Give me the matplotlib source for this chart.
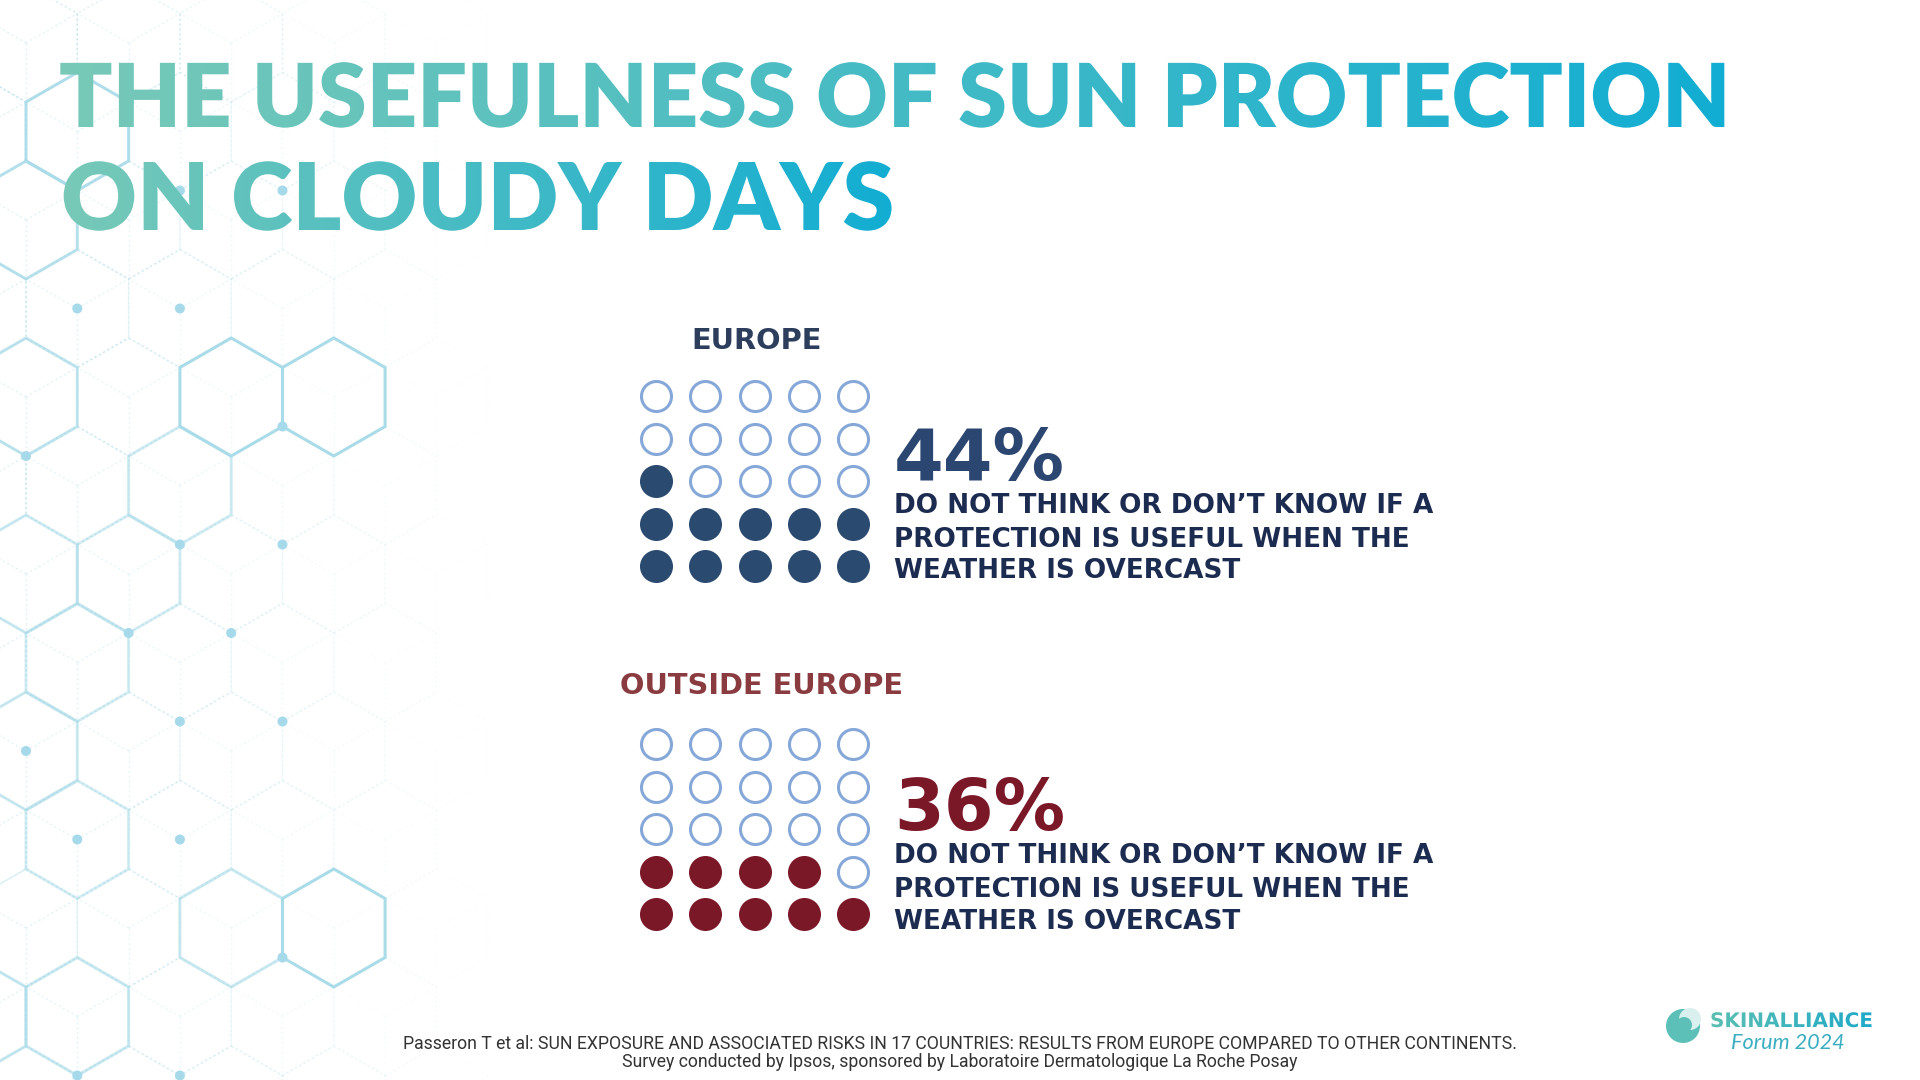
import numpy as np
import matplotlib.pyplot as plt
from matplotlib.patches import Circle, Polygon
from matplotlib.patheffects import AbstractPathEffect
from matplotlib.transforms import TransformedPath
from matplotlib.colors import to_rgb

# ---- chart data ----
title_lines = ["THE USEFULNESS OF SUN PROTECTION", "ON CLOUDY DAYS"]
regions = ["EUROPE", "OUTSIDE EUROPE"]
pct_values = [44, 36]
desc_lines = ["DO NOT THINK OR DON\u2019T KNOW IF A",
              "PROTECTION IS USEFUL WHEN THE",
              "WEATHER IS OVERCAST"]
footer_lines = ["Passeron T et al: SUN EXPOSURE AND ASSOCIATED RISKS IN 17 COUNTRIES: "
                "RESULTS FROM EUROPE COMPARED TO OTHER CONTINENTS.",
                "Survey conducted by Ipsos, sponsored by Laboratoire Dermatologique La Roche Posay"]
logo_name = "SKINALLIANCE"
logo_sub = "Forum 2024"
n_rows, n_cols = 5, 5

# colours
dot_colors = ["#2b4a70", "#7b1828"]
header_colors = ["#2c3e5c", "#8a3b3f"]
pct_colors = ["#2b4670", "#7b1828"]
desc_color = "#1c2b50"
ring_color = "#86a8d8"
teal0, teal1 = "#78c9b7", "#12add3"
hex_color = "#a9dbe8"


class GradientFill(AbstractPathEffect):
    """fill a text path with a left-to-right colour gradient"""
    def __init__(self, c0, c1):
        super().__init__()
        self.c0 = np.array(to_rgb(c0))
        self.c1 = np.array(to_rgb(c1))

    def draw_path(self, renderer, gc, tpath, affine, rgbFace=None):
        ext = affine.transform_path(tpath).get_extents()
        x0, y0 = int(np.floor(ext.x0)), int(np.floor(ext.y0))
        w = int(np.ceil(ext.x1)) - x0 + 1
        h = int(np.ceil(ext.y1)) - y0 + 1
        t = np.linspace(0, 1, w)[:, None]
        rgb = self.c0[None, :] * (1 - t) + self.c1[None, :] * t
        img = np.zeros((h, w, 4), np.uint8)
        img[..., :3] = (rgb * 255).astype(np.uint8)[None, :, :]
        img[..., 3] = 255
        gc0 = renderer.new_gc()
        gc0.copy_properties(gc)
        gc0.set_clip_path(TransformedPath(tpath, affine))
        renderer.draw_image(gc0, x0, y0, img)
        gc0.restore()


fig = plt.figure(figsize=(19.2, 10.8), dpi=100)
ax = fig.add_axes([0, 0, 1, 1])
ax.set_xlim(0, 1920)
ax.set_ylim(1080, 0)
ax.axis('off')
renderer = fig.canvas.get_renderer()


def text_w(s, size, **kw):
    t = ax.text(0, 0, s, fontsize=size, **kw)
    w = t.get_window_extent(renderer).width
    t.remove()
    return w


def fit_size(s, target_w, **kw):
    # font size (pt) that makes the string target_w pixels wide
    return 100 * target_w / text_w(s, 100, **kw)


# ---- background hexagons ----
W, R = 102.6, 59.0
hx0, hy0, dyrow = 26, 397, 88.5
offs = [(0, -R), (W / 2, -R / 2), (W / 2, R / 2), (0, R), (-W / 2, R / 2), (-W / 2, -R / 2)]


def hex_center(j, i):
    return hx0 + i * W - (j % 2) * W / 2, hy0 + j * dyrow


def hex_pts(j, i):
    cx, cy = hex_center(j, i)
    return [(cx + dx, cy + dy) for dx, dy in offs]


for j in range(-4, 9):
    for i in range(0, 5):
        cx, cy = hex_center(j, i)
        a = max(0.0, 1 - cx / 470)
        ax.add_patch(Polygon(hex_pts(j, i), closed=True, fill=False, ec=hex_color,
                             lw=1, ls=(0, (1.5, 2)), alpha=0.55 * a))
        for k in (1, 3, 5):
            ax.plot([cx, cx + offs[k][0]], [cy, cy + offs[k][1]], color=hex_color,
                    lw=1, ls=(0, (1.5, 2)), alpha=0.35 * a)

solid_hex = [(-3, 1, 0.9), (-2, 0, 0.8), (0, 0, 0.7), (0, 2, 1.0), (0, 3, 1.0), (1, 2, 0.5),
             (2, 0, 0.5), (2, 1, 0.45), (3, 1, 0.45), (4, 0, 0.5), (5, 1, 0.45),
             (6, 2, 0.6), (6, 3, 1.0), (7, 0, 0.6), (7, 1, 0.6)]
for j, i, a in solid_hex:
    ax.add_patch(Polygon(hex_pts(j, i), closed=True, fill=False, ec=hex_color, lw=2.2, alpha=a))

hex_dots = [(-3, 1, 1), (-2, 2, 1), (-2, 2, 5), (-1, 1, -1), (-1, 2, -1), (0, 2, 2), (0, 0, 3),
            (1, 2, 3), (1, 3, 3), (2, 1, 3), (2, 2, 3), (4, 0, -1), (3, 2, 3), (3, 3, 3),
            (5, 1, -1), (5, 2, -1), (6, 2, 2), (7, 1, 3), (7, 2, 3)]
for j, i, k in hex_dots:
    cx, cy = hex_center(j, i)
    if k >= 0:
        cx, cy = cx + offs[k][0], cy + offs[k][1]
    ax.add_patch(Circle((cx, cy), 5, color="#a6d9ea", lw=0))

# ---- title ----
tkw = dict(family='Lato', fontweight='heavy')
for s, x, y, tw in zip(title_lines, [59, 61], [127, 230], [1671, 833]):
    t = ax.text(x, y, s, fontsize=fit_size(s, tw, **tkw), ha='left', va='baseline',
                color=teal1, **tkw)
    t.set_path_effects([GradientFill(teal0, teal1)])

# ---- dot grids ----
col_x = 656 + 49.3 * np.arange(n_cols)
grid_top = [396, 744]
row_dy = 42.5
head_x = [757, 761]
head_y = [349, 694]
head_w = [131, 278]
pct_base = [480, 830]
desc_base = [[513, 547, 578], [863, 897, 929]]

hkw = dict(family='DejaVu Sans', fontweight='bold')
hsize = fit_size(regions[0], head_w[0], **hkw)
psize = fit_size(f"{pct_values[0]}%", 171, **hkw)
dsize = fit_size(desc_lines[0], 541, **hkw)

for g in range(len(regions)):
    n_fill = int(round(pct_values[g] / 100 * n_rows * n_cols))
    xs, ys, filled = [], [], []
    for k in range(n_rows * n_cols):
        xs.append(col_x[k % n_cols])
        ys.append(grid_top[g] + row_dy * (n_rows - 1 - k // n_cols))
        filled.append(k < n_fill)
    xs, ys, filled = np.array(xs), np.array(ys), np.array(filled)
    ax.scatter(xs[filled], ys[filled], s=565, color=dot_colors[g], lw=0, zorder=3)
    ax.scatter(xs[~filled], ys[~filled], s=467, facecolor='white', edgecolor=ring_color,
               lw=2.2, zorder=3)

    ax.text(head_x[g], head_y[g], regions[g], fontsize=hsize, ha='center', va='baseline',
            color=header_colors[g], **hkw)
    ax.text(894, pct_base[g], f"{pct_values[g]}%", fontsize=psize, ha='left', va='baseline',
            color=pct_colors[g], **hkw)
    for line, yb in zip(desc_lines, desc_base[g]):
        ax.text(894, yb, line, fontsize=dsize, ha='left', va='baseline', color=desc_color, **hkw)

# ---- footer ----
fkw = dict(family='Roboto', fontweight='normal')
fsize = fit_size(footer_lines[0], 1116, **fkw)
for s, yb in zip(footer_lines, [1049, 1067]):
    ax.text(960, yb, s, fontsize=fsize, ha='center', va='baseline', color='#333333', **fkw)

# ---- logo ----
ax.add_patch(Circle((1683, 1026), 17, color='#5cbfb8', lw=0))
ax.add_patch(Circle((1690, 1019), 11, color='#d9f0ef', lw=0))
ax.add_patch(Circle((1684, 1025), 8, color='#5cbfb8', lw=0))
lkw = dict(family='DejaVu Sans', fontweight='bold')
t = ax.text(1710, 1027, logo_name, fontsize=fit_size(logo_name, 163, **lkw), ha='left',
            va='baseline', color=teal1, **lkw)
t.set_path_effects([GradientFill("#5bbfb2", "#1fa9c9")])
skw = dict(family='Lato', fontstyle='italic')
ax.text(1731, 1049, logo_sub, fontsize=fit_size(logo_sub, 114, **skw), ha='left',
        va='baseline', color='#3aaec0', **skw)

fig.savefig('out.png', dpi=100, facecolor='white')
